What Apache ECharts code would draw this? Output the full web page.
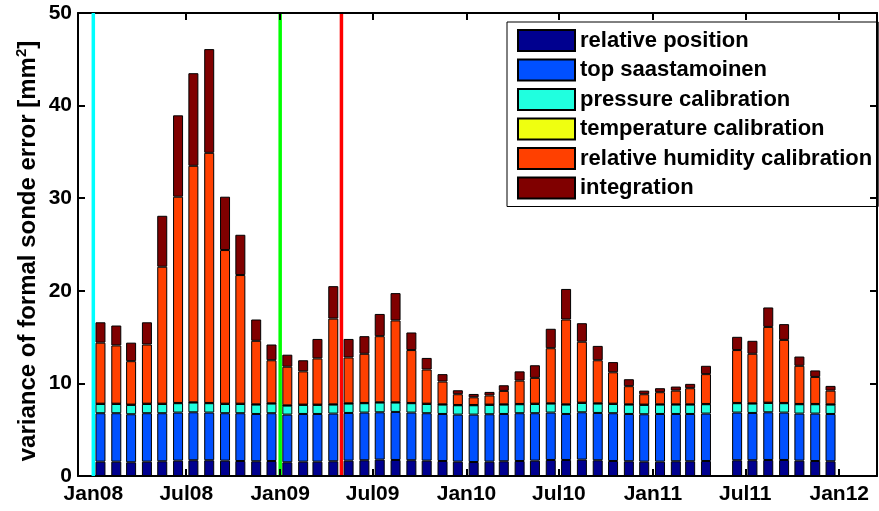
<!DOCTYPE html>
<html>
<head>
<meta charset="utf-8">
<script src="https://cdn.jsdelivr.net/npm/echarts@6/dist/echarts.min.js"></script>
<style>html,body{margin:0;padding:0;background:#fff}#c{width:879px;height:511px}</style>
</head>
<body>
<div id="c"></div>
<script>
// Monthly bars (May 2011 missing)
const months = [
 '2008-01-15','2008-02-15','2008-03-15','2008-04-15','2008-05-15','2008-06-15','2008-07-15','2008-08-15','2008-09-15','2008-10-15','2008-11-15','2008-12-15',
 '2009-01-15','2009-02-15','2009-03-15','2009-04-15','2009-05-15','2009-06-15','2009-07-15','2009-08-15','2009-09-15','2009-10-15','2009-11-15','2009-12-15',
 '2010-01-15','2010-02-15','2010-03-15','2010-04-15','2010-05-15','2010-06-15','2010-07-15','2010-08-15','2010-09-15','2010-10-15','2010-11-15','2010-12-15',
 '2011-01-15','2011-02-15','2011-03-15','2011-04-15','2011-06-15','2011-07-15','2011-08-15','2011-09-15','2011-10-15','2011-11-15','2011-12-15'
];
const relativePosition = [1.55,1.55,1.48,1.55,1.59,1.66,1.70,1.70,1.66,1.62,1.59,1.62,
 1.48,1.55,1.55,1.59,1.66,1.70,1.77,1.73,1.70,1.66,1.62,1.55,
 1.51,1.55,1.59,1.62,1.66,1.73,1.73,1.77,1.70,1.62,1.59,1.55,
 1.55,1.59,1.59,1.62,1.70,1.70,1.73,1.73,1.66,1.62,1.59];
const topSaastamoinen = [5.23,5.23,5.19,5.23,5.19,5.19,5.18,5.15,5.12,5.16,5.11,5.16,
 5.15,5.15,5.15,5.15,5.15,5.15,5.11,5.19,5.15,5.12,5.08,5.08,
 5.12,5.12,5.11,5.16,5.12,5.12,4.97,5.11,5.11,5.16,5.11,5.12,
 5.15,5.11,5.11,5.12,5.15,5.11,5.15,5.12,5.08,5.12,5.11];
const pressureCalibration = [1.00,1.00,1.01,1.00,1.00,1.01,1.05,1.01,1.00,1.00,1.01,1.04,
 0.97,0.98,0.98,0.97,1.01,1.01,1.05,1.01,1.01,1.00,1.01,1.01,
 1.01,1.01,1.01,0.97,1.00,0.97,1.01,1.01,1.01,1.00,1.01,1.01,
 1.01,1.01,1.01,1.01,1.01,1.01,1.01,1.01,1.01,1.01,1.01];
const temperatureCalibration = [0.03,0.03,0.03,0.03,0.03,0.03,0.03,0.03,0.03,0.03,0.03,0.03,
 0.03,0.03,0.03,0.03,0.03,0.03,0.03,0.03,0.03,0.03,0.03,0.03,
 0.03,0.03,0.03,0.03,0.03,0.03,0.03,0.03,0.03,0.03,0.03,0.03,
 0.03,0.03,0.03,0.03,0.03,0.03,0.03,0.03,0.03,0.03,0.03];
const humidityCalibration = [6.59,6.29,4.69,6.39,14.79,22.27,25.54,27.01,16.59,13.89,6.86,4.65,
 4.17,3.59,4.99,9.26,4.95,5.31,7.14,8.84,5.71,3.69,2.46,1.16,
 0.83,0.99,1.45,2.52,2.79,5.95,9.16,6.58,4.65,3.39,1.96,1.12,
 1.31,1.48,1.74,3.22,5.71,5.35,8.18,6.81,4.12,2.92,1.48];
const integration = [2.20,2.15,2.00,2.40,5.50,8.79,10.00,11.20,5.76,4.35,2.30,1.70,
 1.30,1.20,2.10,3.50,2.00,1.90,2.40,2.95,1.90,1.25,0.80,0.43,
 0.36,0.38,0.61,1.00,1.36,2.10,3.30,2.00,1.55,1.10,0.75,0.39,
 0.43,0.44,0.47,0.90,1.43,1.40,2.10,1.70,1.00,0.70,0.51];

const seriesNames = ['relative position','top saastamoinen','pressure calibration','temperature calibration','relative humidity calibration','integration'];
const seriesColors = ['#00008f','#0050ff','#20ffdf','#efff10','#ff4000','#800000'];
const seriesValues = [relativePosition, topSaastamoinen, pressureCalibration, temperatureCalibration, humidityCalibration, integration];

// Vertical marker lines
const markerDates = ['2008-01-01','2009-01-01','2009-05-01'];
const markerColors = ['#00ffff','#00ff00','#ff0000'];

// Axis ticks
const tickDates = ['2008-01-01','2008-07-01','2009-01-01','2009-07-01','2010-01-01','2010-07-01','2011-01-01','2011-07-01','2012-01-01'];
const tickLabels = ['Jan08','Jul08','Jan09','Jul09','Jan10','Jul10','Jan11','Jul11','Jan12'];
const yMin = 0, yMax = 50, yStep = 10;
const xMin = '2007-12-02', xMax = '2012-03-15';

function toTs(s){ const p = s.split('-').map(Number); return Date.UTC(p[0], p[1]-1, p[2]); }
const tickTs = tickDates.map(toTs);
const labelMap = {};
tickTs.forEach((t,i)=>{ labelMap[t] = tickLabels[i]; });

const FONT = 'Liberation Sans, Arial, Helvetica, sans-serif';

// value first so the library stacks the y dimension
const barSeries = seriesNames.map((n,k)=>({
  name: n, type: 'bar', stack: 'total', barWidth: 10, z: 2,
  encode: {x: 1, y: 0},
  itemStyle: {color: seriesColors[k], borderColor: '#000', borderWidth: 1},
  emphasis: {disabled: true},
  data: months.map((m,i)=>[seriesValues[k][i], toTs(m)])
}));
const lineSeries = markerDates.map((d,k)=>({
  name: 'marker'+k, type: 'line', showSymbol: false, symbol: 'none', silent: true,
  z: k === 0 ? 10 : 1,
  lineStyle: {color: markerColors[k], width: 3.5},
  data: [[toTs(d), yMin], [toTs(d), yMax]]
}));

const chart = echarts.init(document.getElementById('c'), null, {renderer: 'canvas'});
chart.setOption({
  animation: false,
  backgroundColor: '#fff',
  grid: {left: 78, top: 13, right: 2, bottom: 35},
  legend: {
    data: seriesNames, orient: 'vertical', left: 507, top: 22,
    itemWidth: 57, itemHeight: 21, itemGap: 6.5, icon: 'rect',
    padding: [7, 6, 7, 10],
    backgroundColor: '#fff', borderColor: '#000', borderWidth: 1,
    textStyle: {fontFamily: FONT, fontWeight: 'bold', fontSize: 22, color: '#000'},
    selectedMode: false
  },
  xAxis: [{
    type: 'value', min: toTs(xMin), max: toTs(xMax), z: 5,
    axisLine: {show: true, onZero: false, lineStyle: {color: '#000', width: 2}},
    axisTick: {show: true, inside: true, length: 7, customValues: tickTs, lineStyle: {color: '#000', width: 2}},
    axisLabel: {show: true, customValues: tickTs, margin: 8, fontFamily: FONT, fontWeight: 'bold', fontSize: 21, color: '#000',
      formatter: v => labelMap[v] || ''},
    splitLine: {show: false}, minorTick: {show: false}
  }, {
    type: 'value', position: 'top', min: toTs(xMin), max: toTs(xMax), z: 5,
    axisLine: {show: true, onZero: false, lineStyle: {color: '#000', width: 2}},
    axisTick: {show: true, inside: true, length: 7, customValues: tickTs, lineStyle: {color: '#000', width: 2}},
    axisLabel: {show: false}, splitLine: {show: false}
  }],
  yAxis: [{
    type: 'value', min: yMin, max: yMax, interval: yStep, z: 5,
    axisLine: {show: true, lineStyle: {color: '#000', width: 2}},
    axisTick: {show: true, inside: true, length: 7, lineStyle: {color: '#000', width: 2}},
    axisLabel: {margin: 6, fontFamily: FONT, fontWeight: 'bold', fontSize: 21, color: '#000'},
    splitLine: {show: false},
    name: 'variance of formal sonde error [mm{sup|2}]',
    nameLocation: 'middle', nameGap: 35, nameRotate: 90, nameMoveOverlap: false,
    nameTextStyle: {fontFamily: FONT, fontWeight: 'bold', fontSize: 24, color: '#000', padding: [0, 13, 0, 0],
      rich: {sup: {fontFamily: FONT, fontWeight: 'bold', fontSize: 15, color: '#000', verticalAlign: 'top', padding: [0,0,14,0]}}}
  }, {
    type: 'value', position: 'right', min: yMin, max: yMax, interval: yStep, z: 5,
    axisLine: {show: true, onZero: false, lineStyle: {color: '#000', width: 2}},
    axisTick: {show: true, inside: true, length: 7, lineStyle: {color: '#000', width: 2}},
    axisLabel: {show: false}, splitLine: {show: false}
  }],
  series: barSeries.concat(lineSeries)
});
</script>
</body>
</html>
